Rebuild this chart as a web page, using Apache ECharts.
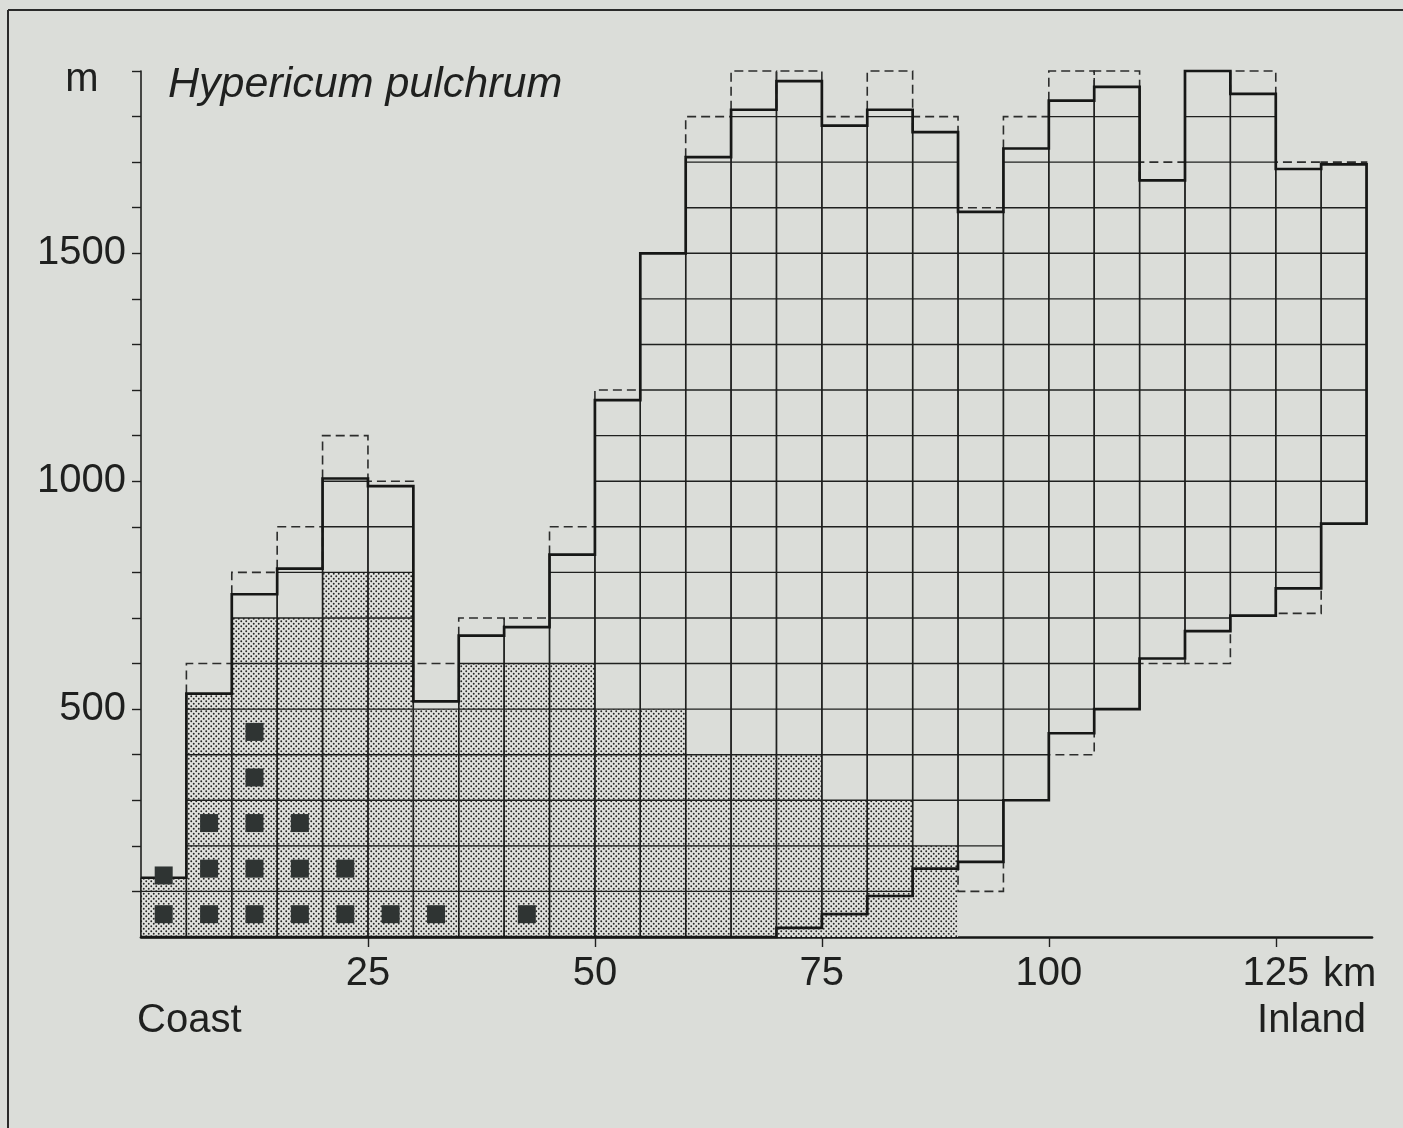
<!DOCTYPE html>
<html>
<head>
<meta charset="utf-8">
<title>Hypericum pulchrum – altitude range by distance from the coast</title>
<script src="https://cdn.jsdelivr.net/npm/echarts@6/dist/echarts.min.js"></script>
<style>
  html, body { margin: 0; padding: 0; background: #dbddd9; }
  #main { width: 1403px; height: 1128px; }
</style>
</head>
<body>
<div id="main"></div>
<script>
// Distance bands (km from the coast), each 5 km wide
const bandStart = [0, 5, 10, 15, 20, 25, 30, 35, 40, 45, 50, 55, 60, 65, 70,
                   75, 80, 85, 90, 95, 100, 105, 110, 115, 120, 125, 130];
const bandWidth = 5;

// Highest and lowest ground in each band (m)
const topAlt = [130, 534, 752, 808, 1006, 989, 517, 661, 680, 839, 1178, 1500, 1711, 1815,
                1878, 1780, 1815, 1766, 1591, 1730, 1835, 1865, 1660, 1900, 1850, 1685, 1695];
const bottomAlt = [0, 0, 0, 0, 0, 0, 0, 0, 0, 0, 0, 0, 0, 0,
                   20, 50, 90, 150, 165, 300, 447, 500, 611, 671, 705, 765, 907];

// Upper / lower limits of the 100 m squares that are only partly occupied (dashed)
const topDashed = [null, 600, 800, 900, 1100, 1000, 600, 700, 700, 900, 1200, null, 1800, 1900,
                   1900, 1800, 1900, 1800, 1600, 1800, 1900, 1900, 1700, null, 1900, 1700, 1700];
const bottomDashed = [null, null, null, null, null, null, null, null, null, null, null, null, null, null,
                      null, null, null, null, 100, null, 400, null, 600, 600, null, 710, null];

// Upper limit of the stippled altitude range in each band (m); null = none
const rangeTop = [130, 534, 700, 700, 800, 800, 500, 600, 600, 600, 500, 500, 400, 400,
                  400, 300, 300, 200, null, null, null, null, null, null, null, null, null];

// Recorded occurrences (band centre in km, altitude in m)
const recordKm  = [2.5, 2.5, 7.5, 7.5, 7.5, 12.5, 12.5, 12.5, 12.5, 12.5,
                   17.5, 17.5, 17.5, 22.5, 22.5, 27.5, 32.5, 42.5];
const recordAlt = [50, 135, 50, 150, 250, 50, 150, 250, 350, 450,
                   50, 150, 250, 50, 150, 50, 50, 50];

// Axis ticks and labels
const xTickValues = [25, 50, 75, 100, 125];
const yTickValues = [100, 200, 300, 400, 500, 600, 700, 800, 900, 1000,
                     1100, 1200, 1300, 1400, 1500, 1600, 1700, 1800, 1900];
const yLabelValues = [500, 1000, 1500];

const INK = '#1f201f';
const FONT = '"Liberation Sans", Arial, Helvetica, sans-serif';

// Stipple texture for the occupied altitude range
const tile = document.createElement('canvas');
tile.width = 5; tile.height = 5;
const tg = tile.getContext('2d');
tg.fillStyle = '#e1e2de';
tg.fillRect(0, 0, 5, 5);
tg.fillStyle = '#262726';
[[1.25, 1.25], [3.75, 3.75]].forEach(([x, y]) => {
  tg.beginPath(); tg.arc(x, y, 0.95, 0, Math.PI * 2); tg.fill();
});
const stipple = { image: tile, repeat: 'repeat' };

function seg(api, a, b, style) {
  const p = api.coord(a), q = api.coord(b);
  return { type: 'line', shape: { x1: p[0], y1: p[1], x2: q[0], y2: q[1] }, style: style };
}

function renderRange(params, api) {
  const i = params.dataIndex;
  if (rangeTop[i] == null) return null;
  const x0 = bandStart[i], x1 = x0 + bandWidth;
  const p = api.coord([x0, rangeTop[i]]), q = api.coord([x1, 0]);
  return { type: 'rect', shape: { x: p[0], y: p[1], width: q[0] - p[0], height: q[1] - p[1] },
           style: { fill: stipple } };
}

function renderCells(params, api) {
  const i = params.dataIndex;
  const x0 = bandStart[i], x1 = x0 + bandWidth;
  const b = bottomAlt[i], t = topAlt[i];
  const thin = { stroke: INK, lineWidth: 1.4 };
  const children = [];
  for (let h = Math.floor(b / 100) * 100 + 100; h < t; h += 100) {
    children.push(seg(api, [x0, h], [x1, h], thin));
  }
  children.push(seg(api, [x0, b], [x0, t], thin));
  children.push(seg(api, [x1, b], [x1, t], thin));
  return { type: 'group', children: children };
}

function renderDashed(params, api) {
  const i = params.dataIndex;
  const x0 = bandStart[i], x1 = x0 + bandWidth;
  const dash = { stroke: '#2c2d2c', lineWidth: 1.6, lineDash: [9, 5], fill: null };
  const children = [];
  if (topDashed[i] != null) {
    const pts = [[x0, topAlt[i]], [x0, topDashed[i]], [x1, topDashed[i]], [x1, topAlt[i]]].map(api.coord);
    children.push({ type: 'polyline', shape: { points: pts }, style: dash });
  }
  if (bottomDashed[i] != null) {
    const pts = [[x0, bottomAlt[i]], [x0, bottomDashed[i]], [x1, bottomDashed[i]], [x1, bottomAlt[i]]].map(api.coord);
    children.push({ type: 'polyline', shape: { points: pts }, style: dash });
  }
  return { type: 'group', children: children };
}

function renderOutline(params, api) {
  const pts = [];
  bandStart.forEach((s, i) => { pts.push([s, topAlt[i]], [s + bandWidth, topAlt[i]]); });
  for (let i = bandStart.length - 1; i >= 0; i--) {
    pts.push([bandStart[i] + bandWidth, bottomAlt[i]], [bandStart[i], bottomAlt[i]]);
  }
  return { type: 'polyline', shape: { points: pts.map(api.coord) },
           style: { stroke: '#161716', lineWidth: 2.7, fill: null, lineJoin: 'miter' } };
}

const bandData = bandStart.map((s, i) => [s, topAlt[i]]);

const chart = echarts.init(document.getElementById('main'), null, { renderer: 'canvas' });
chart.setOption({
  animation: false,
  backgroundColor: '#dbddd9',
  grid: { left: 141, right: 31, top: 71, bottom: 191, containLabel: false },
  xAxis: {
    type: 'value', min: 0, max: 135.6, interval: 25,
    splitLine: { show: false },
    axisLine: { show: true, lineStyle: { color: '#161716', width: 2.7 } },
    axisTick: { show: true, customValues: xTickValues, length: 10, lineStyle: { color: INK, width: 1.4 } },
    axisLabel: { customValues: xTickValues, margin: 17, color: INK, fontSize: 40, fontFamily: FONT,
                 formatter: v => (xTickValues.indexOf(v) >= 0 ? String(v) : '') }
  },
  yAxis: {
    type: 'value', min: 0, max: 1900, interval: 100,
    splitLine: { show: false },
    axisLine: { show: true, lineStyle: { color: INK, width: 1.6 } },
    axisTick: { show: true, customValues: yTickValues, length: 9, lineStyle: { color: INK, width: 1.4 } },
    axisLabel: { customValues: yLabelValues, margin: 15, color: INK, fontSize: 40, fontFamily: FONT,
                 formatter: v => (yLabelValues.indexOf(v) >= 0 ? String(v) : '') }
  },
  series: [
    { type: 'custom', name: 'range', renderItem: renderRange, data: bandData,
      encode: { x: 0, y: 1 }, z: 1, silent: true, clip: false },
    { type: 'custom', name: 'cells', renderItem: renderCells, data: bandData,
      encode: { x: 0, y: 1 }, z: 2, silent: true, clip: false },
    { type: 'custom', name: 'partial squares', renderItem: renderDashed, data: bandData,
      encode: { x: 0, y: 1 }, z: 3, silent: true, clip: false },
    { type: 'custom', name: 'ground', renderItem: renderOutline, data: [[0, 0]],
      encode: { x: 0, y: 1 }, z: 4, silent: true, clip: false },
    { type: 'scatter', name: 'records', data: recordKm.map((k, i) => [k, recordAlt[i]]),
      symbol: 'rect', symbolSize: 18, itemStyle: { color: '#2f3433', opacity: 1 }, z: 5, silent: true }
  ],
  graphic: [
    { type: 'line', shape: { x1: 8, y1: 10, x2: 1403, y2: 10 }, style: { stroke: '#2a2a2a', lineWidth: 2 } },
    { type: 'line', shape: { x1: 8, y1: 10, x2: 8, y2: 1128 }, style: { stroke: '#2a2a2a', lineWidth: 2 } },
    { type: 'text', x: 82, y: 80, style: { text: 'm', font: '40px ' + FONT, fill: INK, textAlign: 'center', textVerticalAlign: 'middle' } },
    { type: 'text', x: 168, y: 85, style: { text: 'Hypericum pulchrum', font: 'italic 43px ' + FONT, fill: INK, textAlign: 'left', textVerticalAlign: 'middle' } },
    { type: 'text', x: 1323, y: 975, style: { text: 'km', font: '40px ' + FONT, fill: INK, textAlign: 'left', textVerticalAlign: 'middle' } },
    { type: 'text', x: 137, y: 1021, style: { text: 'Coast', font: '40px ' + FONT, fill: INK, textAlign: 'left', textVerticalAlign: 'middle' } },
    { type: 'text', x: 1366, y: 1021, style: { text: 'Inland', font: '40px ' + FONT, fill: INK, textAlign: 'right', textVerticalAlign: 'middle' } }
  ]
});
</script>
</body>
</html>
